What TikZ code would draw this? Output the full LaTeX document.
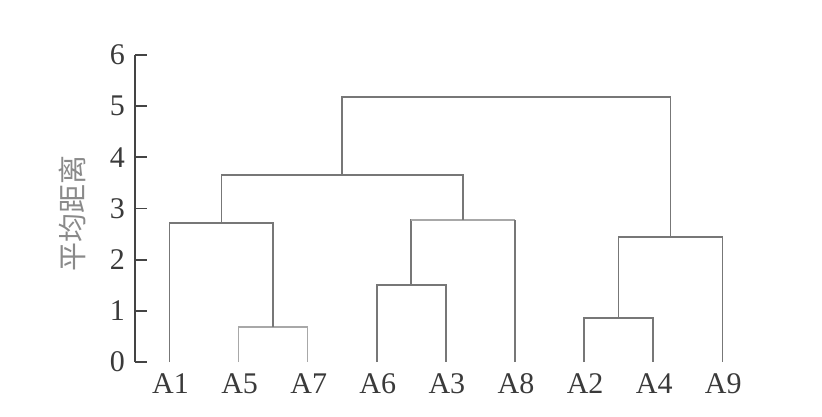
\documentclass[tikz,border=0pt]{standalone}
\usepackage{fontspec}
\setmainfont{Liberation Serif}
\newfontfamily\cjk{Noto Sans CJK SC}
\definecolor{axisc}{HTML}{444444}
\definecolor{treec}{HTML}{777777}
\definecolor{lightc}{HTML}{A8A8A8}
\definecolor{textc}{HTML}{3A3A3A}
\definecolor{labc}{HTML}{8A8A8A}
\begin{document}
\begin{tikzpicture}[x=1pt,y=-1pt,
  treeline/.style={draw=treec,line width=1.5pt},
  lightline/.style={draw=lightc,line width=1.5pt},
  axisline/.style={draw=axisc,line width=1.7pt},
  ticklab/.style={anchor=east,inner sep=0pt,text=textc,font=\fontsize{30}{33}\selectfont},
  leaflab/.style={anchor=base,inner sep=0pt,text=textc,font=\fontsize{30}{33}\selectfont}]
\useasboundingbox (0,0) rectangle (822,416);
% axis
\coordinate (ax0) at (135,362);
\coordinate (ax6) at (135,55);
\draw[axisline] (ax0) -- (ax6);
\foreach \i in {0,...,6}{
  \coordinate (t\i) at (135,{362-51.17*\i});
  \coordinate (te\i) at (147,{362-51.17*\i});
  \draw[axisline] (t\i) -- (te\i);
  \node[ticklab] (tl\i) at (125,{362-51.17*\i}) {\i};
}
\node[rotate=90,text=labc,font=\cjk\fontsize{29}{32}\selectfont] (ylab) at (72,213) {平均距离};
% leaves
\foreach \n/\k in {A1/0,A5/1,A7/2,A6/3,A3/4,A8/5,A2/6,A4/7,A9/8}{
  \coordinate (\n) at ({169.5+69.1*\k},362);
  \node[leaflab] (l\n) at ({170.5+69.1*\k},393) {\n};
}
% merges
\coordinate (m57) at (273.2,327);
\coordinate (m157) at (221.3,223);
\coordinate (m63) at (411.0,285);
\coordinate (m638) at (463.0,220);
\coordinate (m24) at (618.7,318);
\coordinate (m249) at (670.5,237);
\coordinate (mc1) at (342.2,175);
\coordinate (mtop) at (506.4,97);
\draw[lightline] (A5) |- (m57) -| (A7);
\draw[treeline] (m57) -- (m57 |- m157);
\draw[treeline] (A1) |- (m157) -| (m57);
\draw[treeline] (A6) |- (m63) -| (A3);
\draw[treeline] (m63) |- (m638);
\draw[lightline] (m63 |- m638) -- (A8 |- m638);
\draw[treeline] (A8) -- (A8 |- m638);
\draw[treeline] (A2) |- (m24) -| (A4);
\draw[treeline] (m24) |- (m249) -| (A9);
\draw[treeline] (m157) |- (mc1) -| (m638);
\draw[treeline] (mc1) |- (mtop) -| (m249);
\end{tikzpicture}
\end{document}
